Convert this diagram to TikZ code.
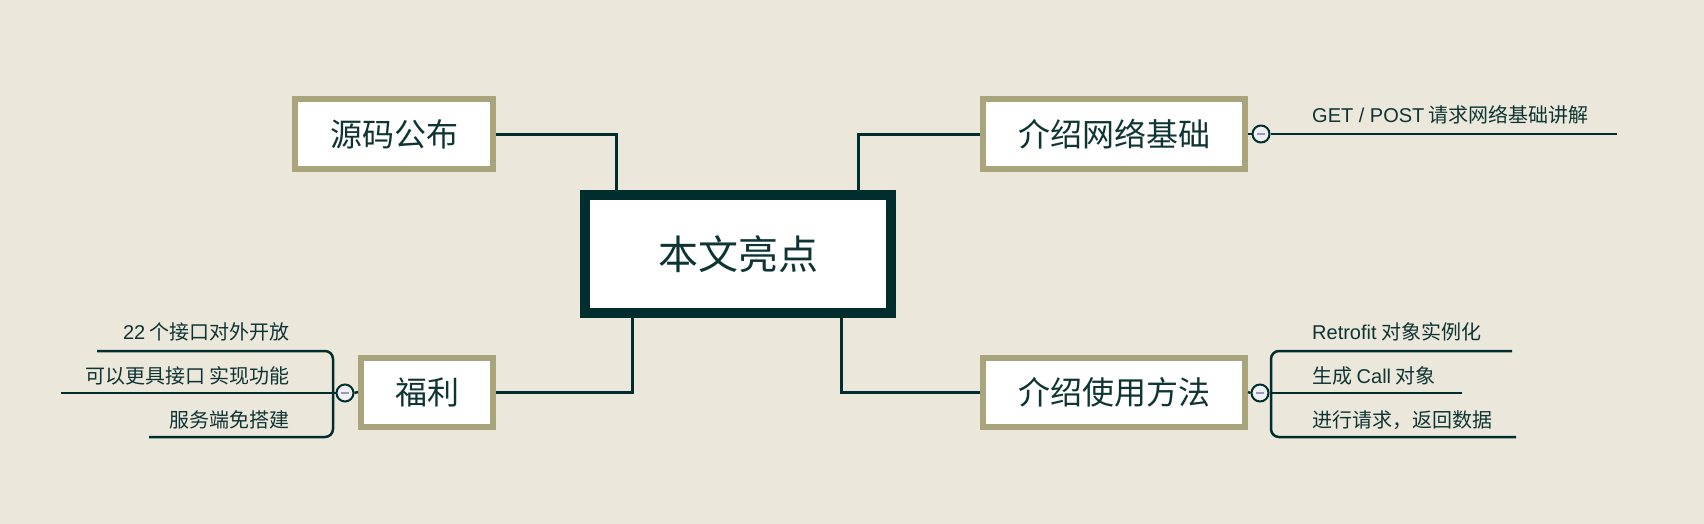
\documentclass[tikz,border=0pt]{standalone}
\usepackage{fontspec}
\setmainfont{Noto Sans CJK SC}
\newfontfamily\latn{Liberation Sans}
\usetikzlibrary{calc}
\definecolor{bgc}{RGB}{235,232,219}
\definecolor{darkc}{RGB}{0,46,46}
\definecolor{textc}{RGB}{14,52,52}
\definecolor{olivec}{RGB}{168,164,124}
\definecolor{lavc}{RGB}{150,150,200}
\definecolor{circfill}{RGB}{238,240,242}
\tikzset{
  centerbox/.style={draw=darkc, fill=white, line width=10pt, minimum width=306pt, minimum height=118pt, inner sep=0pt, text=textc, font=\fontsize{40}{48}\selectfont},
  topicbox/.style={draw=olivec, fill=white, line width=6pt, minimum height=69pt, inner sep=0pt, text=textc, font=\fontsize{32}{38}\selectfont},
  conn/.style={draw=darkc, line width=3pt},
  branch/.style={draw=darkc, line width=2.5pt},
  collapse/.style={circle, draw=darkc, fill=circfill, line width=2pt, minimum size=17pt, inner sep=0pt,
    path picture={\draw[lavc, line width=2pt] ([xshift=-4pt]path picture bounding box.center) -- ([xshift=4pt]path picture bounding box.center);}},
  leaf/.style={text=textc, font=\fontsize{20}{24}\selectfont, inner sep=0pt},
}
\begin{document}
\begin{tikzpicture}[x=1pt, y=-1pt]
\fill[bgc] (0,0) rectangle (1704,524);
\useasboundingbox (0,0) rectangle (1704,524);

% main nodes
\node[centerbox] (center) at (738,254) {本文亮点};
\node[topicbox, minimum width=198pt] (src) at (394,134) {源码公布};
\node[topicbox, minimum width=262pt] (net) at (1114,134) {介绍网络基础};
\node[topicbox, minimum width=132pt] (fuli) at (427,392) {福利};
\node[topicbox, minimum width=262pt] (use) at (1114,392) {介绍使用方法};

% connectors from centre
\draw[conn] (src.east) -| ([xshift=-122pt]center.north);
\draw[conn] ([xshift=120pt]center.north) |- (net.west);
\draw[conn] ([xshift=-106pt]center.south) |- (fuli.east);
\draw[conn] ([xshift=103pt]center.south) |- (use.west);

% collapse buttons
\node[collapse] (c1) at (1261,134) {};
\node[collapse] (c2) at (1260,393) {};
\node[collapse] (c3) at (345,393) {};
\draw[branch] (net.east) -- (c1.west);
\draw[branch] (use.east) -- (c2.west);
\draw[branch] (fuli.west) -- (c3.east);

% right top leaf
\coordinate (e1) at (1617,134);
\draw[branch] (c1.east) -- (e1);
\node[leaf, anchor=base west] (l1) at (1312,123) {{\latn GET / POST} 请求网络基础讲解};

% right bottom leaves
\coordinate (r1) at (1512,351);
\coordinate (r2) at (1462,393);
\coordinate (r3) at (1516,437);
\coordinate (rb1) at (1271,351);
\coordinate (rb3) at (1271,437);
\draw[branch, rounded corners=8pt] (r1) -- (rb1) -- (rb3) -- (r3);
\draw[branch] (c2.east) -- (r2);
\node[leaf, anchor=base west] (l2) at (1312,339) {{\latn Retrofit} 对象实例化};
\node[leaf, anchor=base west] (l3) at (1312,383) {生成 {\latn Call} 对象};
\node[leaf, anchor=base west] (l4) at (1312,427) {进行请求，返回数据};

% left leaves
\coordinate (f1) at (97,351);
\coordinate (f2) at (61,393);
\coordinate (f3) at (149,437);
\coordinate (fb1) at (333,351);
\coordinate (fb3) at (333,437);
\draw[branch, rounded corners=8pt] (f1) -- (fb1) -- (fb3) -- (f3);
\draw[branch] (c3.west) -- (f2);
\node[leaf, anchor=base east] (m1) at (290,339) {{\latn 22} 个接口对外开放};
\node[leaf, anchor=base east] (m2) at (290,383) {可以更具接口 实现功能};
\node[leaf, anchor=base east] (m3) at (290,427) {服务端免搭建};
\end{tikzpicture}
\end{document}
